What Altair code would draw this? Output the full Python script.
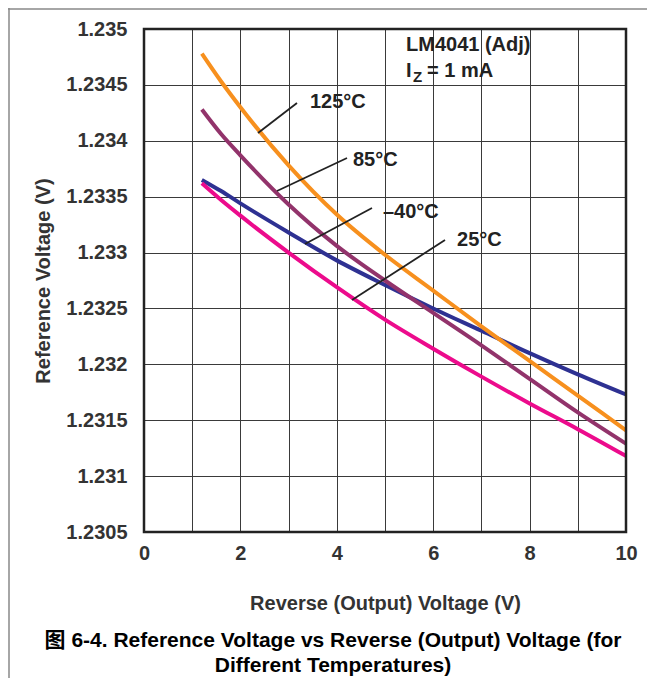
import altair as alt
import pandas as pd

# ---- data ----
x_125 = [1.2, 1.6, 2.0, 3.0, 4.0, 5.0, 6.0, 7.0, 8.0, 9.0, 10.0]
v_125 = [1.23478, 1.23453, 1.23430, 1.23378, 1.23334, 1.23298, 1.23266,
         1.23234, 1.23203, 1.23172, 1.23141]

x_85 = [1.2, 1.6, 2.0, 3.0, 4.0, 5.0, 6.0, 7.0, 8.0, 9.0, 10.0]
v_85 = [1.23428, 1.23406, 1.23387, 1.23343, 1.23306, 1.23275, 1.23246,
        1.23217, 1.23187, 1.23157, 1.23129]

x_m40 = [1.2, 1.6, 2.0, 3.0, 4.0, 5.0, 6.0, 7.0, 8.0, 9.0, 10.0]
v_m40 = [1.23365, 1.23355, 1.23344, 1.23318, 1.23293, 1.23271, 1.23250,
         1.23230, 1.23210, 1.23191, 1.23173]

x_25 = [1.2, 1.6, 2.0, 3.0, 4.0, 5.0, 6.0, 7.0, 8.0, 9.0, 10.0]
v_25 = [1.23362, 1.23347, 1.23333, 1.23300, 1.23269, 1.23240, 1.23214,
        1.23189, 1.23165, 1.23142, 1.23118]

series_names = ["-40°C", "25°C", "85°C", "125°C"]
series_colors = ["#2E3192", "#EC0B8C", "#92336B", "#F7901E"]

x_ticks = list(range(0, 11))
y_ticks = [1.2305, 1.231, 1.2315, 1.232, 1.2325, 1.233, 1.2335, 1.234, 1.2345, 1.235]

label_text = ["125°C", "85°C", "–40°C", "25°C"]
label_x = [3.444, 4.336, 4.958, 6.494]
label_y = [1.234293, 1.233774, 1.233309, 1.233059]

lead_x1 = [3.174, 4.212, 4.730, 6.245]
lead_y1 = [1.234338, 1.233846, 1.233399, 1.233112]
lead_x2 = [2.365, 2.759, 3.340, 4.315]
lead_y2 = [1.234070, 1.233551, 1.233077, 1.232576]

note_line1 = "LM4041 (Adj)"
caption1 = "图 6-4. Reference Voltage vs Reverse (Output) Voltage (for"
caption2 = "Different Temperatures)"

# ---- tables ----
rows = []
for name, xs, vs in [("-40°C", x_m40, v_m40), ("25°C", x_25, v_25),
                     ("85°C", x_85, v_85), ("125°C", x_125, v_125)]:
    for i, (a, b) in enumerate(zip(xs, vs)):
        rows.append({"series": name, "V": a, "Vref": b, "i": i})
lines_df = pd.DataFrame(rows)

labels_df = pd.DataFrame({"V": label_x, "Vref": label_y, "t": label_text})
leads_df = pd.DataFrame({"V": lead_x1, "Vref": lead_y1, "V2": lead_x2, "Vref2": lead_y2})
note_df = pd.DataFrame({
    "V": [5.436, 5.436, 5.581, 5.871],
    "Vref": [1.234803, 1.234571, 1.234526, 1.234571],
    "t": [note_line1, "I", "Z", "= 1 mA"],
    "fs": [20, 20, 15, 20],
})
dummy = pd.DataFrame({"a": [0]})

FONT = "Liberation Sans, Arial, Helvetica, sans-serif"
CJK = "Liberation Sans, Arial, Noto Sans CJK SC, sans-serif"

W, H = 482, 503

xscale = alt.Scale(domain=[0, 10], nice=False, zero=False)
yscale = alt.Scale(domain=[1.2305, 1.235], nice=False, zero=False)

x_axis = alt.Axis(
    values=x_ticks,
    labelExpr="datum.value % 2 == 0 ? datum.label : ''",
    title="Reverse (Output) Voltage (V)",
    titleY=77, titleBaseline="alphabetic", titleAlign="center", titleX=W / 2,
    labelPadding=11, labelFlush=False, labelOverlap=False,
)
y_axis = alt.Axis(
    values=y_ticks, format="~g",
    title="Reference Voltage (V)",
    titleX=-95, titleY=H / 2, titleAngle=270, titleBaseline="alphabetic", titleAlign="center",
    labelPadding=17, labelFlush=False, labelOverlap=False,
)

X = alt.X("V:Q", scale=xscale, axis=x_axis)
Y = alt.Y("Vref:Q", scale=yscale, axis=y_axis)

lines = alt.Chart(lines_df).mark_line(strokeWidth=4, interpolate="monotone").encode(
    x=X, y=Y,
    color=alt.Color("series:N", scale=alt.Scale(domain=series_names, range=series_colors), legend=None),
    order="i:Q",
)

leads = alt.Chart(leads_df).mark_rule(color="#222", strokeWidth=1.8).encode(
    x=X, y=Y, x2="V2:Q", y2="Vref2:Q")

labels = alt.Chart(labels_df).mark_text(
    align="left", baseline="alphabetic", font=FONT, fontWeight="bold", fontSize=20, color="#222"
).encode(x=X, y=Y, text="t:N")

notes = alt.Chart(note_df).mark_text(
    align="left", baseline="alphabetic", font=FONT, fontWeight="bold", color="#222"
).encode(x=X, y=Y, text="t:N", size=alt.Size("fs:Q", scale=None, legend=None))

frame = alt.Chart(dummy).mark_rect(fillOpacity=0, stroke="#222", strokeWidth=2.5).encode(
    x=alt.value(0), x2=alt.value(W), y=alt.value(0), y2=alt.value(H))

border_top = alt.Chart(dummy).mark_rule(color="#888", strokeWidth=1.5).encode(
    x=alt.value(-136), x2=alt.value(W + 21), y=alt.value(-20))
border_left = alt.Chart(dummy).mark_rule(color="#888", strokeWidth=1.5).encode(
    x=alt.value(-135), y=alt.value(-21), y2=alt.value(H + 146))

cap1 = alt.Chart(dummy).mark_text(
    align="center", baseline="alphabetic", font=CJK, fontWeight="bold", fontSize=21, color="#000",
    text=caption1).encode(x=alt.value(189), y=alt.value(618))
cap2 = alt.Chart(dummy).mark_text(
    align="center", baseline="alphabetic", font=CJK, fontWeight="bold", fontSize=21, color="#000",
    text=caption2).encode(x=alt.value(189), y=alt.value(643))

chart = alt.layer(
    lines, leads, labels, notes, frame, border_top, border_left, cap1, cap2
).properties(
    width=W, height=H,
    autosize=alt.AutoSizeParams(type="none"),
    padding={"left": 136, "top": 21, "right": 21, "bottom": 146},
    background="white",
).configure_view(
    strokeWidth=0
).configure_axis(
    labelFont=FONT, labelFontWeight="bold", labelFontSize=20, labelColor="#333",
    titleFont=FONT, titleFontWeight="bold", titleFontSize=20, titleColor="#333",
    ticks=False, tickSize=0, domain=False,
    grid=True, gridColor="#3a3a3a", gridWidth=1, gridOpacity=1,
)

chart.save("out.html", embed_options={"renderer": "svg", "actions": False})
